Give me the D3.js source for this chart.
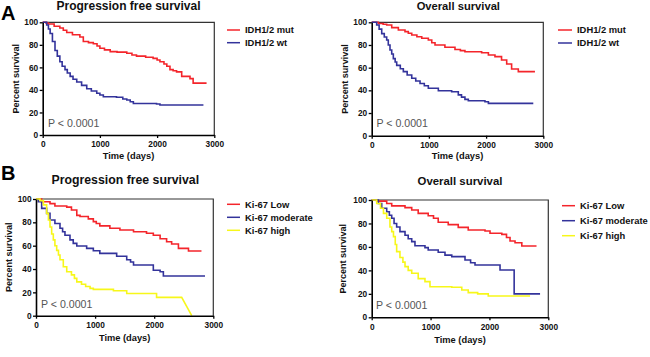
<!DOCTYPE html>
<html><head><meta charset="utf-8">
<script src="https://cdn.jsdelivr.net/npm/d3@7"></script>
<style>body{margin:0;background:#fff}svg{display:block;font-family:"Liberation Sans",Arial,sans-serif}</style>
</head><body><svg id="c" width="650" height="357"></svg>
<script>
// ---------- data ----------
const xTicks = [0, 1000, 2000, 3000];
const yTicks = [0, 20, 40, 60, 80, 100];
const panelTitles = ["Progression free survival", "Overall survival", "Progression free survival", "Overall survival"];
const panelLetters = ["A", "", "B", ""];
const idhLabels = ["IDH1/2 mut", "IDH1/2 wt"];
const ki67Labels = ["Ki-67 Low", "Ki-67 moderate", "Ki-67 high"];
const pValueText = "P < 0.0001";
const xTitle = "Time (days)";
const yTitle = "Percent survival";

// A: PFS by IDH
const a1MutDays = [0,60,100,200,300,360,420,520,650,710,800,885,950,1000,1080,1180,1300,1470,1560,1640,1800,1930,2000,2050,2120,2170,2225,2280,2340,2430,2575,2630,2865];
const a1MutSurv = [100,99.3,98.5,96.5,95,93,91,89,87,83,82,81,79,77,75.5,74,73.5,72.5,71,70,69,68,66.5,65,63,61,58,57,56,52,50,46,46];
const a1WtDays = [0,70,100,130,170,215,255,300,340,390,430,480,530,595,680,770,850,945,1000,1060,1290,1400,1470,1530,1585,1990,2050,2810];
const a1WtSurv = [100,97.6,94,90,83,75,70,65,61,58,55,52,49.5,47,44,41,39,37,35.5,34,33.5,32,31,29.5,28,27.5,26.6,26.6];
// A: OS by IDH
const a2MutDays = [0,116,200,262,350,466,582,640,700,790,875,990,1050,1107,1280,1456,1550,1630,1922,2040,2155,2270,2360,2446,2563,2854];
const a2MutSurv = [100,99,98.3,97.6,95.3,93.2,91.8,90.3,88.8,87.3,86,84.4,82,80,78,76,75,74,73.2,71.2,69.7,66.8,63.2,58.8,56.5,56.5];
const a2WtDays = [0,87,130,175,220,262,290,320,350,378,410,437,500,553,620,700,770,845,920,990,1165,1398,1514,1570,1630,1689,1980,2040,2825];
const a2WtSurv = [100,97.6,94,90,87,84.4,80,75.6,72,68,65,62,59,56.5,53.5,50.6,48.3,46,44,41.8,39.7,38.8,36,34,32,30.8,30,28.5,28.5];
// B: PFS by Ki-67
const b1LowDays = [0,96,237,320,520,600,690,745,885,970,1020,1080,1250,1420,1650,1870,1985,2100,2210,2295,2410,2580,2800];
const b1LowSurv = [100,97.7,96,94,93,90.6,86,85,83,80.6,79,77,75,73.4,72,70.6,69,66,63.4,61.4,57.7,55.4,55.4];
const b1ModDays = [0,40,96,180,237,320,406,450,490,575,630,690,857,970,1080,1365,1535,1600,1650,1985,2100,2155,2860];
const b1ModSurv = [100,97.7,92,87.7,82,79,75,72,69,65,62,59.7,57.7,55.7,53.4,51,48,46,43.4,39,37.7,34,34];
const b1HighDays = [0,68,125,180,210,237,265,293,320,350,380,406,462,520,600,650,690,770,840,915,970,1310,1535,1985,2040,2465,2635];
const b1HighSurv = [100,98.6,95,87.7,82,76,70,65,60,56,52,48,42,37.7,35,32,29,27,25,23.4,22.6,21.4,19,19,15.7,15.7,0];
// B: OS by Ki-67
const b2LowDays = [0,85,255,340,566,680,790,960,1050,1130,1300,1470,1640,1925,2010,2210,2290,2350,2435,2550,2800];
const b2LowSurv = [100,99,97,95,93.5,91.5,88.6,86.6,84.4,81,79,76.7,74.4,73.6,71.6,70.7,68,65,63.6,60.8,60.8];
const b2ModDays = [0,113,170,255,300,340,380,424,480,566,620,680,735,905,960,1130,1245,1360,1585,1680,1755,2180,2420,2860];
const b2ModSurv = [100,97,93,90,87,84.4,80,77,73,70,67,64.5,61,59.4,57.4,55.4,53,51.7,48.9,46.5,44.6,40.3,20,20];
const b2HighDays = [0,85,150,200,255,310,340,370,400,424,480,530,566,620,680,790,905,990,1360,1530,1640,1800,1980,2690];
const b2HighSurv = [100,97,93,88.6,84.4,77,73,68.8,62,56,51,47,43.2,40,37.5,33,30.4,26,25.6,23.3,21,20,18.2,18.2];

// ---------- styles / layout ----------
const RED = "#f4252b", BLUE = "#33339b", YELLOW = "#f7f71a";

const panels = [
  {box:[42.7,214.3,22.3,135], title:{x:128.5,y:9.5,size:12}, letter:{x:1,y:19.5},
   ylab:15.8, xlabY:159, p:{x:48,y:127},
   legend:{x:227,len:13,ys:[30,42.7]}, labels:idhLabels,
   series:[{d:a1MutDays,s:a1MutSurv,c:RED},{d:a1WtDays,s:a1WtSurv,c:BLUE}]},
  {box:[371.7,543.3,22.3,135.7], title:{x:458.3,y:9.5,size:11.2}, letter:null,
   ylab:345.3, xlabY:159, p:{x:376.5,y:127},
   legend:{x:558,len:14,ys:[30,43]}, labels:idhLabels,
   series:[{d:a2MutDays,s:a2MutSurv,c:RED},{d:a2WtDays,s:a2WtSurv,c:BLUE}]},
  {box:[36,213.3,199,315.7], title:{x:125.3,y:183.5,size:12.3}, letter:{x:1,y:179.5},
   ylab:8.7, xlabY:341.3, p:{x:41,y:307.5},
   legend:{x:227,len:13,ys:[204.3,217.3,230.3]}, labels:ki67Labels,
   series:[{d:b1LowDays,s:b1LowSurv,c:RED},{d:b1ModDays,s:b1ModSurv,c:BLUE},{d:b1HighDays,s:b1HighSurv,c:YELLOW,linearTail:true}]},
  {box:[371.7,548.3,200,317.3], title:{x:460,y:185,size:11.4}, letter:null,
   ylab:343.3, xlabY:343.3, p:{x:376,y:308.5},
   legend:{x:562,len:13,ys:[205.7,220.7,235.7]}, labels:ki67Labels,
   series:[{d:b2LowDays,s:b2LowSurv,c:RED},{d:b2ModDays,s:b2ModSurv,c:BLUE},{d:b2HighDays,s:b2HighSurv,c:YELLOW}]}
];

const svg = d3.select("#c");

function stepVertices(days, surv, linearTail) {
  const pts = [[days[0], surv[0]]];
  for (let i = 1; i < days.length; i++) {
    if (linearTail && i === days.length - 1) { pts.push([days[i], surv[i]]); }
    else { pts.push([days[i], surv[i-1]]); pts.push([days[i], surv[i]]); }
  }
  return pts;
}

panels.forEach((p, idx) => {
  const [x0, x1, y0, y1] = p.box;
  const x = d3.scaleLinear().domain([0, 3000]).range([x0, x1]);
  const y = d3.scaleLinear().domain([0, 100]).range([y1, y0]);
  const g = svg.append("g");

  // frame (top / right)
  g.append("path").attr("d", `M${x0},${y0}H${x1}V${y1}`).attr("fill","none")
    .attr("stroke","#333").attr("stroke-width",1.2);

  // curves
  const line = d3.line().x(d => x(d[0])).y(d => y(d[1]));
  p.series.forEach(s => {
    g.append("path").attr("d", line(stepVertices(s.d, s.s, s.linearTail)))
      .attr("fill","none").attr("stroke", s.c).attr("stroke-width",1.6)
      .attr("stroke-linejoin","miter");
  });

  // axes
  const xa = g.append("g").attr("transform",`translate(0,${y1})`)
    .call(d3.axisBottom(x).tickValues(xTicks).tickFormat(d3.format("d")).tickSize(3).tickSizeOuter(0).tickPadding(3.5));
  const ya = g.append("g").attr("transform",`translate(${x0},0)`)
    .call(d3.axisLeft(y).tickValues(yTicks).tickFormat(d3.format("d")).tickSize(3).tickSizeOuter(0).tickPadding(1.5));
  [xa, ya].forEach(a => {
    a.select(".domain").attr("stroke","#000").attr("stroke-width",1.6);
    a.selectAll(".tick line").attr("stroke","#000").attr("stroke-width",1.3);
    a.selectAll(".tick text").attr("fill","#111").style("font-family",'"Liberation Sans",Arial,sans-serif')
      .style("font-weight","bold").style("font-size","8.3px");
  });

  // titles
  g.append("text").attr("x", p.title.x).attr("y", p.title.y).attr("text-anchor","middle")
    .style("font-weight","bold").style("font-size", p.title.size + "px").attr("fill","#111")
    .text(panelTitles[idx]);
  if (p.letter) {
    g.append("text").attr("x", p.letter.x).attr("y", p.letter.y)
      .style("font-weight","bold").style("font-size","20px").attr("fill","#000")
      .text(panelLetters[idx]);
  }
  // axis titles
  g.append("text").attr("x", (x0 + x1) / 2).attr("y", p.xlabY).attr("text-anchor","middle")
    .style("font-weight","bold").style("font-size","9.3px").attr("fill","#111").text(xTitle);
  g.append("text").attr("transform", `translate(${p.ylab},${(y0 + y1) / 2}) rotate(-90)`)
    .attr("text-anchor","middle").attr("dy","0.35em")
    .style("font-weight","bold").style("font-size","9px").attr("fill","#111").text(yTitle);

  // p value
  g.append("text").attr("x", p.p.x).attr("y", p.p.y)
    .style("font-size","10.6px").attr("fill","#555").text(pValueText);

  // legend
  p.series.forEach((s, i) => {
    const ly = p.legend.ys[i];
    g.append("line").attr("x1", p.legend.x).attr("x2", p.legend.x + p.legend.len)
      .attr("y1", ly).attr("y2", ly).attr("stroke", s.c).attr("stroke-width",1.5);
    g.append("text").attr("x", p.legend.x + p.legend.len + 5).attr("y", ly).attr("dy","0.35em")
      .style("font-weight","bold").style("font-size","9.4px").attr("fill","#111").text(p.labels[i]);
  });
});
</script></body></html>
